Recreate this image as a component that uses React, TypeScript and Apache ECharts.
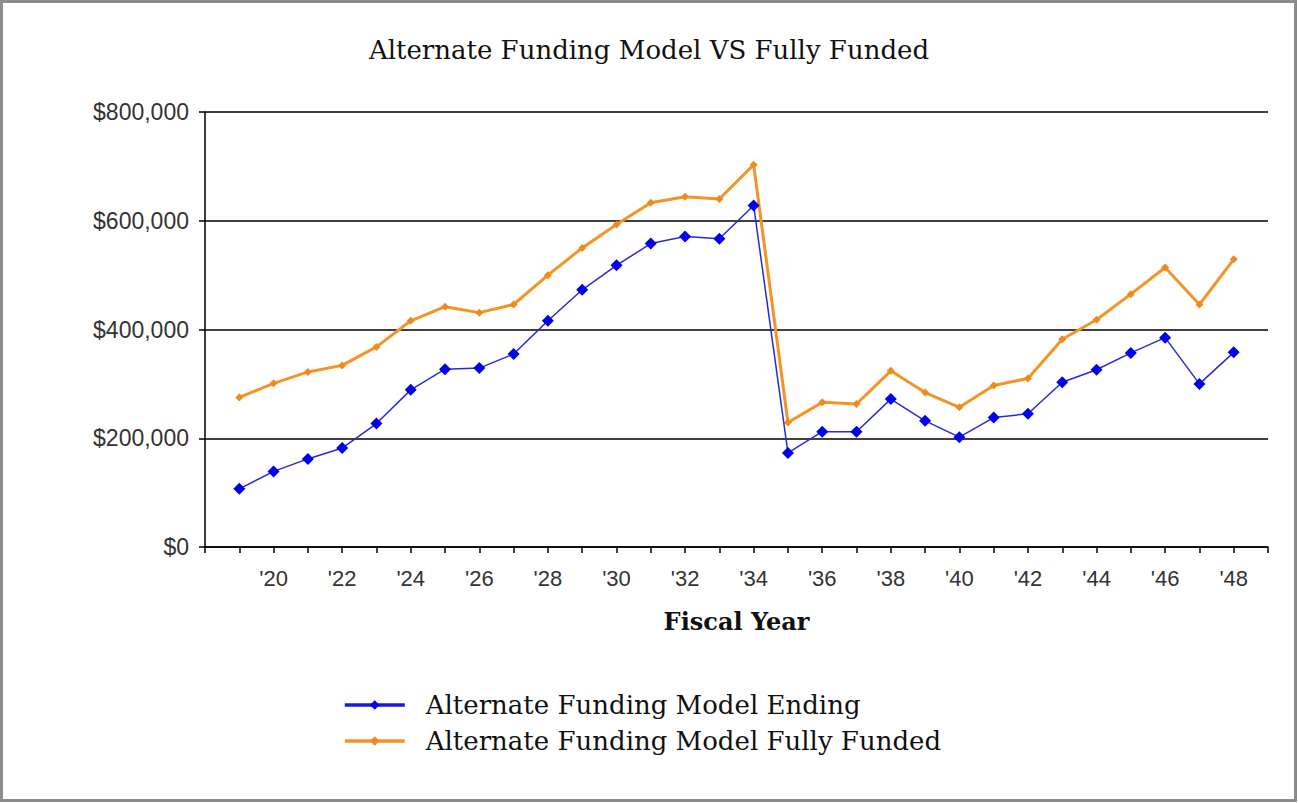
import React, { useEffect, useRef } from "react";
import * as echarts from "echarts";

const years = [2019, 2020, 2021, 2022, 2023, 2024, 2025, 2026, 2027, 2028, 2029, 2030, 2031, 2032, 2033, 2034, 2035, 2036, 2037, 2038, 2039, 2040, 2041, 2042, 2043, 2044, 2045, 2046, 2047, 2048];
const endingValues = [107000, 139000, 162000, 182000, 227000, 289000, 327000, 329000, 355000, 416000, 473000, 518000, 558000, 571000, 567000, 628000, 173000, 212000, 212000, 272000, 232000, 202000, 238000, 245000, 303000, 326000, 357000, 385000, 300000, 358000];
const fullyFundedValues = [275000, 301000, 322000, 334000, 368000, 416000, 442000, 431000, 446000, 500000, 550000, 593000, 633000, 644000, 640000, 703000, 229000, 266000, 263000, 324000, 284000, 257000, 297000, 310000, 382000, 418000, 465000, 514000, 446000, 529000];
const seriesNames = ["Alternate Funding Model Ending", "Alternate Funding Model Fully Funded"];
const titleText = "Alternate Funding Model VS Fully Funded";
const xAxisName = "Fiscal Year";

export default function App() {
  const ref = useRef<HTMLDivElement>(null);
  useEffect(() => {
    document.body.style.margin = "0";
    const chart = echarts.init(ref.current!, null, { renderer: "svg" });
    const serif = "'DejaVu Serif', 'Liberation Serif', serif";
    const sans = "'Liberation Sans', Arial, sans-serif";
    chart.setOption({
      animation: false,
      backgroundColor: "#ffffff",
      title: {
        text: titleText,
        left: "center",
        top: 32,
        textStyle: { fontFamily: serif, fontSize: 26, fontWeight: "normal", color: "#111" },
      },
      grid: { left: 205, right: 30, top: 112, bottom: 256, containLabel: false },
      xAxis: {
        type: "value",
        min: 2018,
        max: 2049,
        interval: 1,
        name: xAxisName,
        nameLocation: "middle",
        nameGap: 62,
        nameTextStyle: { fontFamily: serif, fontSize: 24, fontWeight: "bold", color: "#111" },
        axisLine: { show: true, lineStyle: { color: "#000", width: 1.5 } },
        axisTick: { show: true, length: 6, lineStyle: { color: "#000", width: 1.5 } },
        splitLine: { show: false },
        axisLabel: {
          margin: 20,
          fontFamily: sans,
          fontSize: 22,
          color: "#333",
          formatter: (v: number) => (v % 2 === 0 && v > 2018 && v < 2049 ? "'" + String(v).slice(2) : ""),
        },
      },
      yAxis: {
        type: "value",
        min: 0,
        max: 800000,
        interval: 200000,
        axisLine: { show: true, lineStyle: { color: "#000", width: 1.5 } },
        axisTick: { show: true, length: 6, lineStyle: { color: "#000", width: 1.5 } },
        splitLine: { show: true, lineStyle: { color: "#000", width: 1.5 } },
        axisLabel: {
          margin: 16,
          fontFamily: sans,
          fontSize: 23,
          color: "#333",
          formatter: (v: number) => "$" + v.toLocaleString("en-US"),
        },
      },
      legend: {
        orient: "vertical",
        left: 338,
        top: 687,
        itemWidth: 60,
        itemHeight: 12,
        itemGap: 10,
        textStyle: { fontFamily: serif, fontSize: 26, color: "#111", padding: [0, 0, 0, 16] },
        data: [
          { name: seriesNames[0], lineStyle: { width: 3.5, color: "#1a1ad8" } },
          { name: seriesNames[1], lineStyle: { width: 3.5, color: "#f39425" } },
        ],
      },
      series: [
        {
          name: seriesNames[0],
          type: "line",
          data: years.map((y, i) => [y, endingValues[i]]),
          symbol: "diamond",
          symbolSize: 12,
          itemStyle: { color: "#0000ee" },
          lineStyle: { color: "#2a2ad0", width: 1.5 },
          z: 3,
        },
        {
          name: seriesNames[1],
          type: "line",
          data: years.map((y, i) => [y, fullyFundedValues[i]]),
          symbol: "diamond",
          symbolSize: 8,
          itemStyle: { color: "#f08a1c" },
          lineStyle: { color: "#f39425", width: 3 },
          z: 2,
        },
      ],
      graphic: [
        {
          type: "rect",
          shape: { x: 1.5, y: 1.5, width: 1294, height: 799 },
          style: { fill: "none", stroke: "#8c8c8c", lineWidth: 3 },
          silent: true,
        },
      ],
    });
    return () => chart.dispose();
  }, []);
  return <div ref={ref} style={{ width: 1298, height: 803 }} />;
}
